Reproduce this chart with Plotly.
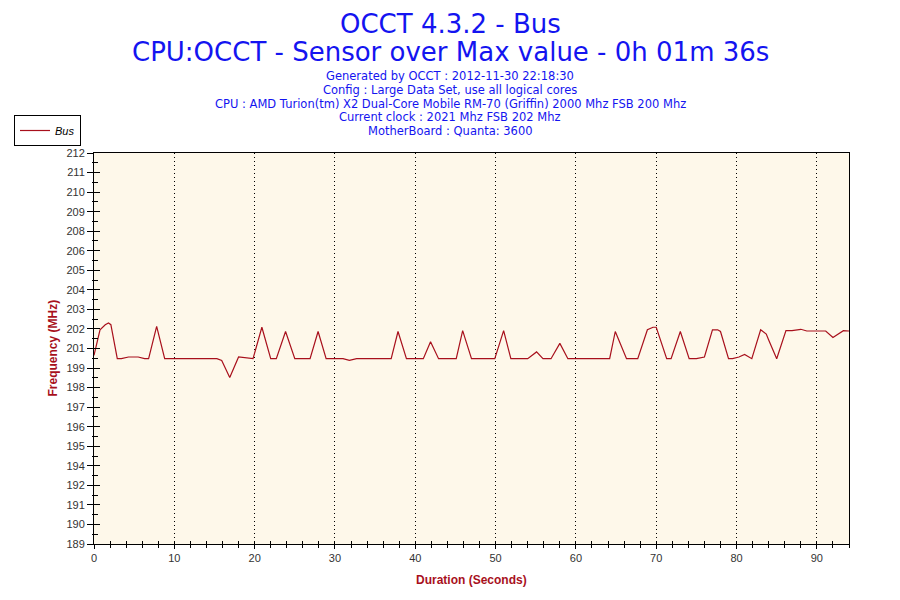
import plotly.graph_objects as go

# Bus frequency samples
seconds = [0, 0.75, 1.4, 1.8, 2.1, 2.9, 3.4, 4.3, 5.5, 6.3, 6.8, 7.8, 8.8,
           15.3, 15.9, 16.9, 18.0, 19.4, 19.8, 20.9, 22.0, 22.7, 23.85, 25.0,
           26.9, 27.9, 28.9, 31.0, 31.8, 32.7, 37.0, 37.85, 38.9, 41.0, 41.9,
           42.9, 45.1, 45.9, 47.0, 49.9, 51.0, 51.9, 54.0, 55.1, 55.9, 56.9,
           58.0, 59.0, 64.2, 64.9, 66.3, 67.7, 68.9, 69.6, 70.0, 71.3, 71.85,
           73.0, 74.1, 75.0, 76.0, 77.0, 77.65, 78.0, 79.0, 79.5, 80.3, 81.0,
           81.9, 83.0, 83.7, 84.0, 85.0, 86.15, 86.9, 88.0, 88.75, 91.1, 92.0,
           93.3, 94.0]
bus_mhz = [200.1, 201.6, 201.9, 202.0, 201.9, 199.9, 199.9, 200.0, 200.0, 199.9, 199.9, 201.8, 199.9,
           199.9, 199.8, 198.8, 200.0, 199.95, 199.9, 201.75, 199.9, 199.9, 201.5, 199.9,
           199.9, 201.5, 199.9, 199.9, 199.8, 199.9, 199.9, 201.5, 199.9, 199.9, 200.9,
           199.9, 199.9, 201.55, 199.9, 199.9, 201.55, 199.9, 199.9, 200.3, 199.9, 199.9,
           200.8, 199.9, 199.9, 201.5, 199.9, 199.9, 201.6, 201.75, 201.75, 199.9, 199.9,
           201.5, 199.9, 199.9, 200.0, 201.6, 201.6, 201.5, 199.9, 199.9, 200.0, 200.15,
           199.9, 201.6, 201.35, 201.0, 199.9, 201.55, 201.55, 201.63, 201.53, 201.53, 201.15,
           201.55, 201.53]

y_min, y_max = 189, 212
y_labels = ["189", "190", "191", "192", "194", "195", "196", "197", "198", "199", "201",
            "202", "203", "204", "205", "206", "208", "209", "210", "211", "212"]

titles = ["OCCT 4.3.2 - Bus", "CPU:OCCT - Sensor over Max value - 0h 01m 36s"]
header = [
    "Generated by OCCT : 2012-11-30 22:18:30",
    "Config : Large Data Set, use all logical cores",
    "CPU : AMD Turion(tm) X2 Dual-Core Mobile RM-70 (Griffin) 2000 Mhz FSB 200 Mhz",
    "Current clock : 2021 Mhz FSB 202 Mhz",
    "MotherBoard : Quanta: 3600",
]

step = (y_max - y_min) / (len(y_labels) - 1)
y_ticks = [y_min + i * step for i in range(len(y_labels))]
y_minor = [v + step / 2 for v in y_ticks[:-1]]

blue = "#1414F0"
red = "#A8101C"

# the page puts the figure 8px in from the window corner, so work in
# window pixels and shift back. plot area on screen: x 94..849, y 153..544
OFF = 8
L, R, T, B = 94 - OFF, 849 - OFF, 153 - OFF, 544 - OFF


def px_x(px):
    return (px - OFF - L) / (R - L)


def px_y(py):
    return (B - (py - OFF)) / (B - T)


fig = go.Figure()
fig.add_trace(go.Scatter(x=seconds, y=bus_mhz, mode="lines", name="Bus",
                         line=dict(color=red, width=1.2)))
# twin axes only carry the inner half of the crossing ticks
fig.add_trace(go.Scatter(x=seconds, y=bus_mhz, mode="lines", xaxis="x2", yaxis="y2",
                         line=dict(width=0), opacity=0, showlegend=False, hoverinfo="skip"))

tickfont = dict(family="Liberation Sans, Arial", size=11, color="#333333")
fig.update_layout(
    width=900, height=600,
    margin=dict(l=L, r=900 - R, t=T, b=600 - B, autoexpand=False),
    paper_bgcolor="white",
    plot_bgcolor="#FEF8EA",
    xaxis=dict(range=[0, 94], dtick=10, tick0=0, showline=True, mirror=True,
               linecolor="black", linewidth=1, ticks="outside", ticklen=4,
               tickcolor="black", tickfont=tickfont,
               showgrid=True, gridcolor="black", griddash="1px,3px", gridwidth=1,
               zeroline=False,
               minor=dict(dtick=2, ticks="outside", ticklen=3, tickcolor="black", showgrid=False)),
    yaxis=dict(range=[y_min, y_max], tickmode="array", tickvals=y_ticks, ticktext=y_labels,
               showline=True, mirror=True, linecolor="black", linewidth=1,
               ticks="outside", ticklen=6, tickcolor="black", tickfont=tickfont,
               showgrid=False, zeroline=False,
               minor=dict(tickmode="array", tickvals=y_minor, ticks="outside", ticklen=1,
                          tickcolor="black", showgrid=False)),
    xaxis2=dict(overlaying="x", range=[0, 94], dtick=10, tick0=0, ticks="inside", ticklen=3,
                tickcolor="black", showticklabels=False, showgrid=False, zeroline=False,
                minor=dict(dtick=2, ticks="inside", ticklen=3, tickcolor="black")),
    yaxis2=dict(overlaying="y", range=[y_min, y_max], tickmode="array", tickvals=y_ticks,
                ticks="inside", ticklen=6, tickcolor="black", showticklabels=False,
                showgrid=False, zeroline=False,
                minor=dict(tickmode="array", tickvals=y_minor, ticks="inside", ticklen=4,
                           tickcolor="black")),
    legend=dict(xref="container", yref="container", x=(14 - OFF) / 900, y=1 - (115 - OFF) / 600,
                xanchor="left", yanchor="top", bordercolor="black", borderwidth=1,
                bgcolor="white", itemwidth=30, tracegroupgap=0,
                font=dict(family="Liberation Sans, Arial", size=11, color="black", style="italic")),
    showlegend=True,
)

for i, line in enumerate(titles):
    fig.add_annotation(text=line, xref="paper", yref="paper", x=px_x(450),
                       y=px_y(24 + i * 28), xanchor="center", yanchor="middle",
                       showarrow=False,
                       font=dict(family="DejaVu Sans", size=26, color=blue))

for i, line in enumerate(header):
    fig.add_annotation(text=line, xref="paper", yref="paper", x=px_x(450),
                       y=px_y(76 + i * 13.8), xanchor="center", yanchor="middle",
                       showarrow=False,
                       font=dict(family="DejaVu Sans", size=11.5, color=blue))

titlefont = dict(family="Liberation Sans, Arial", size=12, color=red, weight="bold")
fig.add_annotation(text="Duration (Seconds)", xref="paper", yref="paper",
                   x=0.5, y=px_y(580), xanchor="center", yanchor="middle",
                   showarrow=False, font=titlefont)
fig.add_annotation(text="Frequency (MHz)", xref="paper", yref="paper",
                   x=px_x(52), y=0.5, xanchor="center", yanchor="middle",
                   textangle=-90, showarrow=False, font=titlefont)

fig.write_html("out.html")
